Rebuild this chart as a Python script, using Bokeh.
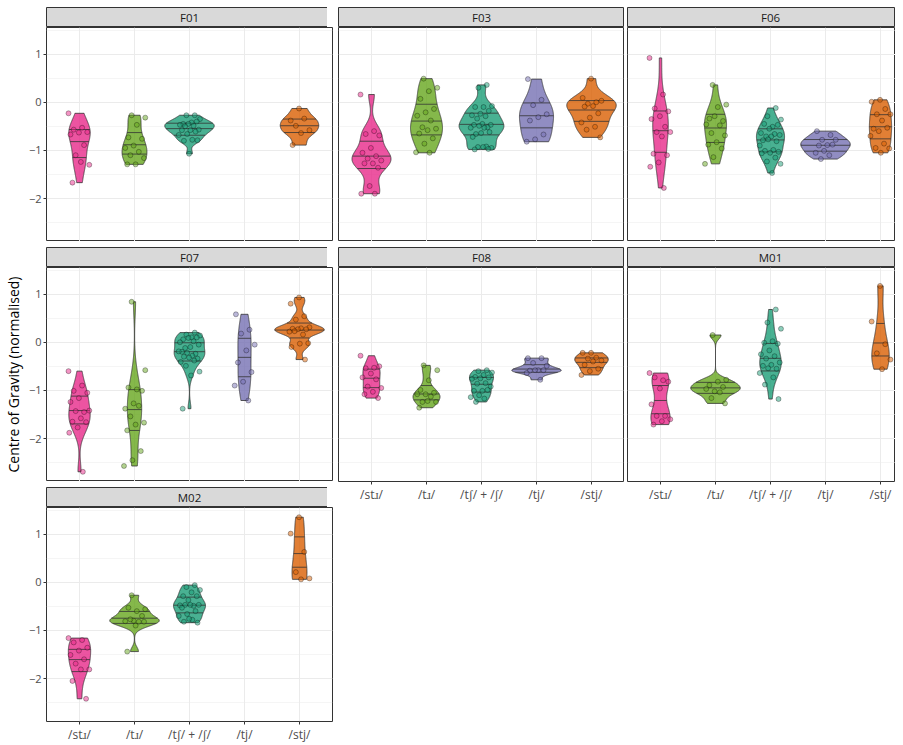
import numpy as np
from bokeh.plotting import figure
from bokeh.layouts import row, column
from bokeh.models import ColumnDataSource, Range1d, FixedTicker, LinearAxis, Grid, Label
from bokeh.embed import file_html
from bokeh.resources import INLINE

# ---------------- data ----------------
CATEGORIES = ["/stɹ/", "/tɹ/", "/tʃ/ + /ʃ/", "/tj/", "/stj/"]
COLORS = ["#E7298A", "#66A61E", "#1B9E77", "#7570B3", "#D95F02"]
SPEAKERS = ["F01", "F03", "F06", "F07", "F08", "M01", "M02"]
Y_TICKS = [-2, -1, 0, 1]
Y_LABEL = "Centre of Gravity (normalised)"

F01_STR = [-0.23, -0.53, -0.57, -0.62, -0.63, -0.67, -0.89, -1.10, -1.30, -1.24, -1.67]
F01_TR = [-0.27, -0.32, -0.47, -0.73, -0.76, -0.90, -0.95, -1.03, -1.10, -1.16, -1.29, -1.29]
F01_TSH = [-0.27, -0.27, -0.35, -0.42, -0.45, -0.40, -0.45, -0.47, -0.49, -0.50, -0.57, -0.58,
           -0.58, -0.61, -0.66, -0.68, -0.78, -0.80, -0.79, -1.07]
F01_TJ = []
F01_STJ = [-0.13, -0.38, -0.34, -0.49, -0.58, -0.64, -0.89]

F03_STR = [0.16, -0.60, -0.66, -0.69, -0.95, -1.05, -1.12, -1.17, -1.21, -1.27, -1.27, -1.36,
           -1.74, -1.90, -1.90]
F03_TR = [0.49, 0.30, 0.23, 0.07, -0.14, -0.21, -0.28, -0.38, -0.52, -0.55, -0.58, -0.65, -0.75,
          -0.86, -1.04, -1.05]
F03_TSH = [0.36, 0.30, -0.08, -0.10, -0.10, -0.18, -0.24, -0.27, -0.29, -0.34, -0.47, -0.45,
           -0.47, -0.52, -0.49, -0.53, -0.53, -0.66, -0.62, -0.64, -0.72, -0.92, -0.93, -0.95,
           -0.93, -0.98, -0.97]
F03_TJ = [0.48, 0.05, -0.06, -0.25, -0.31, -0.38, -0.67, -0.77, -0.82]
F03_STJ = [0.49, 0.09, 0.00, -0.03, 0.03, -0.08, -0.09, -0.23, -0.32, -0.42, -0.51, -0.57, -0.73]

F06_STR = [0.92, 0.16, -0.13, -0.19, -0.29, -0.35, -0.51, -0.62, -0.62, -0.71, -1.07, -1.10,
           -1.25, -1.34, -1.78]
F06_TR = [0.36, -0.05, -0.10, -0.34, -0.39, -0.29, -0.46, -0.48, -0.64, -0.69, -0.83, -0.88,
          -0.96, -1.14, -1.28]
F06_TSH = [-0.12, -0.29, -0.36, -0.51, -0.45, -0.47, -0.55, -0.64, -0.66, -0.71, -0.68, -0.71,
           -0.79, -0.81, -0.77, -0.90, -0.99, -1.01, -1.03, -1.05, -1.06, -1.15, -1.23, -1.28, -1.47]
F06_TJ = [-0.60, -0.68, -0.78, -0.78, -0.89, -0.90, -0.88, -1.01, -1.05, -1.10, -1.18]
F06_STJ = [0.05, 0.01, -0.14, -0.25, -0.25, -0.38, -0.55, -0.53, -0.60, -0.70, -0.86, -0.95,
           -0.96, -1.05]

F07_STR = [-0.60, -0.90, -1.01, -1.05, -1.16, -1.24, -1.45, -1.43, -1.42, -1.58, -1.65, -1.66,
           -1.77, -1.88, -2.69]
F07_TR = [0.84, -0.58, -0.98, -0.94, -1.01, -1.27, -1.38, -1.32, -1.54, -1.67, -1.71, -1.83,
          -2.26, -2.45, -2.57]
F07_TSH = [0.20, 0.16, 0.14, 0.10, 0.06, 0.10, 0.09, 0.00, 0.02, -0.12, -0.05, -0.10, -0.20,
           -0.24, -0.22, -0.19, -0.28, -0.30, -0.34, -0.32, -0.41, -0.38, -0.49, -0.61, -0.69, -1.38]
F07_TJ = [0.58, 0.26, 0.18, -0.05, -0.17, -0.42, -0.62, -0.82, -0.90, -1.21]
F07_STJ = [0.93, 0.80, 0.54, 0.47, 0.31, 0.29, 0.28, 0.27, 0.27, 0.22, 0.16, 0.23, -0.02, -0.03,
           -0.10, -0.36]

F08_STR = [-0.28, -0.53, -0.54, -0.50, -0.65, -0.73, -0.77, -0.92, -0.95, -1.03, -1.08, -1.16]
F08_TR = [-0.48, -0.58, -0.79, -0.99, -1.05, -1.08, -1.08, -1.13, -1.24, -1.24, -1.22, -1.36]
F08_TSH = [-0.58, -0.60, -0.63, -0.68, -0.72, -0.73, -0.75, -0.76, -0.85, -0.86, -0.92, -1.01,
           -1.01, -0.99, -1.10, -1.14, -1.17, -1.24]
F08_TJ = [-0.33, -0.33, -0.43, -0.49, -0.58, -0.59, -0.58, -0.58, -0.64, -0.78]
F08_STJ = [-0.22, -0.22, -0.32, -0.34, -0.38, -0.40, -0.47, -0.55, -0.60, -0.68]

M01_STR = [-0.64, -0.79, -0.73, -0.82, -0.96, -1.29, -1.53, -1.53, -1.60, -1.64, -1.71]
M01_TR = [0.15, -0.78, -0.82, -0.89, -0.93, -1.02, -0.97, -1.04, -1.16, -1.27]
M01_TSH = [0.68, 0.41, 0.28, 0.02, -0.01, -0.03, -0.17, -0.25, -0.29, -0.34, -0.42, -0.47, -0.49,
           -0.55, -0.54, -0.64, -0.73, -0.88, -1.18]
M01_TJ = []
M01_STJ = [1.17, 0.43, -0.04, -0.23, -0.36, -0.56]

M02_STR = [-1.16, -1.20, -1.25, -1.36, -1.42, -1.51, -1.60, -1.69, -1.81, -1.81, -2.05, -2.42]
M02_TR = [-0.27, -0.56, -0.60, -0.53, -0.70, -0.80, -0.81, -0.82, -0.77, -0.82, -0.90, -1.44]
M02_TSH = [-0.06, -0.10, -0.16, -0.21, -0.29, -0.29, -0.37, -0.48, -0.49, -0.47, -0.47, -0.47,
           -0.53, -0.60, -0.66, -0.70, -0.78, -0.82, -0.84, -0.76]
M02_TJ = []
M02_STJ = [1.35, 1.01, 0.63, 0.21, 0.08, 0.06]

DATA = {
    "F01": [F01_STR, F01_TR, F01_TSH, F01_TJ, F01_STJ],
    "F03": [F03_STR, F03_TR, F03_TSH, F03_TJ, F03_STJ],
    "F06": [F06_STR, F06_TR, F06_TSH, F06_TJ, F06_STJ],
    "F07": [F07_STR, F07_TR, F07_TSH, F07_TJ, F07_STJ],
    "F08": [F08_STR, F08_TR, F08_TSH, F08_TJ, F08_STJ],
    "M01": [M01_STR, M01_TR, M01_TSH, M01_TJ, M01_STJ],
    "M02": [M02_STR, M02_TR, M02_TSH, M02_TJ, M02_STJ],
}

# ---------------- layout / style ----------------
FONT = "Open Sans"
STRIP_H = 20
PANEL_H = 214
GAP = 6
TOP_PAD = 7
LEFT_BORDER = 38
FW = [286, 285, 268]            # frame widths per column
COL_LAYOUT = [["F01", "F07", "M02"], ["F03", "F08"], ["F06", "M01"]]
BORDERS = [(LEFT_BORDER, 3), (3, 2), (2, 0)]
UNITS_PER_PX = 5.2 / 286.0      # ggplot discrete axis: 0.4 .. 5.6 over a full panel
X_START = 0.4
POSITIONS = np.arange(1, len(CATEGORIES) + 1)

all_vals = np.concatenate([np.asarray(v, float) for s in SPEAKERS for v in DATA[s] if len(v)])
span = all_vals.max() - all_vals.min()
Y_LO = all_vals.min() - 0.05 * span
Y_HI = all_vals.max() + 0.05 * span
Y_MINOR = list(np.arange(Y_TICKS[0] - 0.5, Y_TICKS[-1] + 1.0, 1.0))


def r_density(y, n=512):
    y = np.asarray(y, float)
    sd = y.std(ddof=1)
    q75, q25 = np.percentile(y, [75, 25])
    lo = min(sd, (q75 - q25) / 1.34)
    if lo <= 0:
        lo = sd if sd > 0 else (abs(y[0]) if y[0] != 0 else 1.0)
    bw = 0.9 * lo * len(y) ** -0.2
    grid = np.linspace(y.min(), y.max(), n)
    z = (grid[:, None] - y[None, :]) / bw
    d = np.exp(-0.5 * z ** 2).sum(axis=1) / (len(y) * bw * np.sqrt(2 * np.pi))
    return grid, d


def style_common(p, fill):
    p.background_fill_color = fill
    p.border_fill_color = "white"
    p.outline_line_color = "#333333"
    p.outline_line_width = 1


def axis_style(ax, size):
    ax.major_tick_out = 3
    ax.major_tick_in = 0
    ax.minor_tick_out = 0
    ax.minor_tick_in = 0
    ax.major_tick_line_color = "#333333"
    ax.axis_line_color = None
    ax.major_label_text_font = FONT
    ax.major_label_text_font_size = size
    ax.major_label_text_color = "#4D4D4D"
    ax.major_label_standoff = 2


def base_figure(fw, fh, xr, yr, bl, br, top):
    return figure(frame_width=fw, frame_height=fh, x_range=xr, y_range=yr,
                  x_axis_type=None, y_axis_type=None, toolbar_location=None,
                  output_backend="svg", title=None, min_border=0,
                  min_border_left=bl, min_border_right=br, min_border_top=top,
                  min_border_bottom=0)


def make_strip(name, x_range, fw, bl, br, top):
    s = base_figure(fw, STRIP_H, x_range, Range1d(0, 1), bl, br, top)
    style_common(s, "#D9D9D9")
    s.add_layout(Label(x=float(POSITIONS.mean()), y=0.5, text=name, text_align="center",
                       text_baseline="middle", text_font=FONT, text_font_size="11.5px",
                       text_color="#1A1A1A"))
    return s


def make_panel(name, fw, bl, br, show_x, show_y, ylabel):
    x_end = X_START + fw * UNITS_PER_PX
    p = base_figure(fw, PANEL_H, Range1d(X_START, x_end), Range1d(Y_LO, Y_HI), bl, br, 0)
    style_common(p, "white")
    p.add_layout(Grid(dimension=1, ticker=FixedTicker(ticks=Y_TICKS, minor_ticks=Y_MINOR),
                      grid_line_color="#EBEBEB", grid_line_width=1,
                      minor_grid_line_color="#EBEBEB", minor_grid_line_width=0.5))
    p.add_layout(Grid(dimension=0, ticker=FixedTicker(ticks=list(POSITIONS)),
                      grid_line_color="#EBEBEB", grid_line_width=1))

    groups = DATA[name]
    dens = {}
    for i, vals in enumerate(groups):
        if len(vals) >= 2:
            dens[i] = r_density(vals)
    dmax = max(d.max() for _, d in dens.values())

    vx, vy, vc = [], [], []
    qx0, qx1, qy = [], [], []
    px, py, pc = [], [], []
    for i, vals in enumerate(groups):
        if not len(vals):
            continue
        pos = POSITIONS[i]
        if i in dens:
            g, d = dens[i]
            hw = d / dmax * 0.45
            vx.append(list(np.concatenate([pos - hw, (pos + hw)[::-1]])))
            vy.append(list(np.concatenate([g, g[::-1]])))
            vc.append(COLORS[i])
            cdf = np.cumsum(d) / d.sum()
            qs = np.interp([0.25, 0.5, 0.75], cdf, g)
            qh = np.interp(qs, g, hw)
            qx0 += list(pos - qh)
            qx1 += list(pos + qh)
            qy += list(qs)
        n = len(vals)
        jit = ((np.arange(n) * 0.6180339887 + 0.37 * i) % 1.0 - 0.5) * 0.4
        px += list(pos + jit)
        py += list(vals)
        pc += [COLORS[i]] * n

    p.patches(xs="xs", ys="ys", source=ColumnDataSource(dict(xs=vx, ys=vy, c=vc)),
              fill_color="c", fill_alpha=0.8, line_color="#333333", line_width=0.8)
    p.segment(x0="x0", y0="y", x1="x1", y1="y",
              source=ColumnDataSource(dict(x0=qx0, x1=qx1, y=qy)),
              line_color="#333333", line_width=0.8)
    p.scatter(x="x", y="y", source=ColumnDataSource(dict(x=px, y=py, c=pc)), size=5,
              fill_color="c", fill_alpha=0.5, line_color="black", line_alpha=0.5, line_width=0.6)

    if show_y:
        ax = LinearAxis(ticker=FixedTicker(ticks=Y_TICKS), axis_label=ylabel)
        axis_style(ax, "11px")
        ax.axis_label_text_font = FONT
        ax.axis_label_text_font_size = "14px"
        ax.axis_label_text_font_style = "normal"
        ax.axis_label_text_color = "black"
        ax.axis_label_standoff = 3
        p.add_layout(ax, "left")
    if show_x:
        ax = LinearAxis(ticker=FixedTicker(ticks=list(POSITIONS)),
                        major_label_overrides={int(k): v for k, v in zip(POSITIONS, CATEGORIES)})
        axis_style(ax, "12px")
        ax.major_label_standoff = 1
        p.add_layout(ax, "below")
    return p


cols = []
for c, names in enumerate(COL_LAYOUT):
    bl, br = BORDERS[c]
    items = []
    for r, name in enumerate(names):
        last = r == len(names) - 1
        ylabel = (Y_LABEL if name == "F07" else " ") if c == 0 else None
        panel = make_panel(name, FW[c], bl, br, show_x=last, show_y=(c == 0), ylabel=ylabel)
        strip = make_strip(name, panel.x_range, FW[c], bl, br, TOP_PAD if r == 0 else GAP)
        items += [strip, panel]
    cols.append(column(*items, spacing=0))

layout = row(*cols, spacing=0)
open("out.html", "w").write(file_html(layout, INLINE))
